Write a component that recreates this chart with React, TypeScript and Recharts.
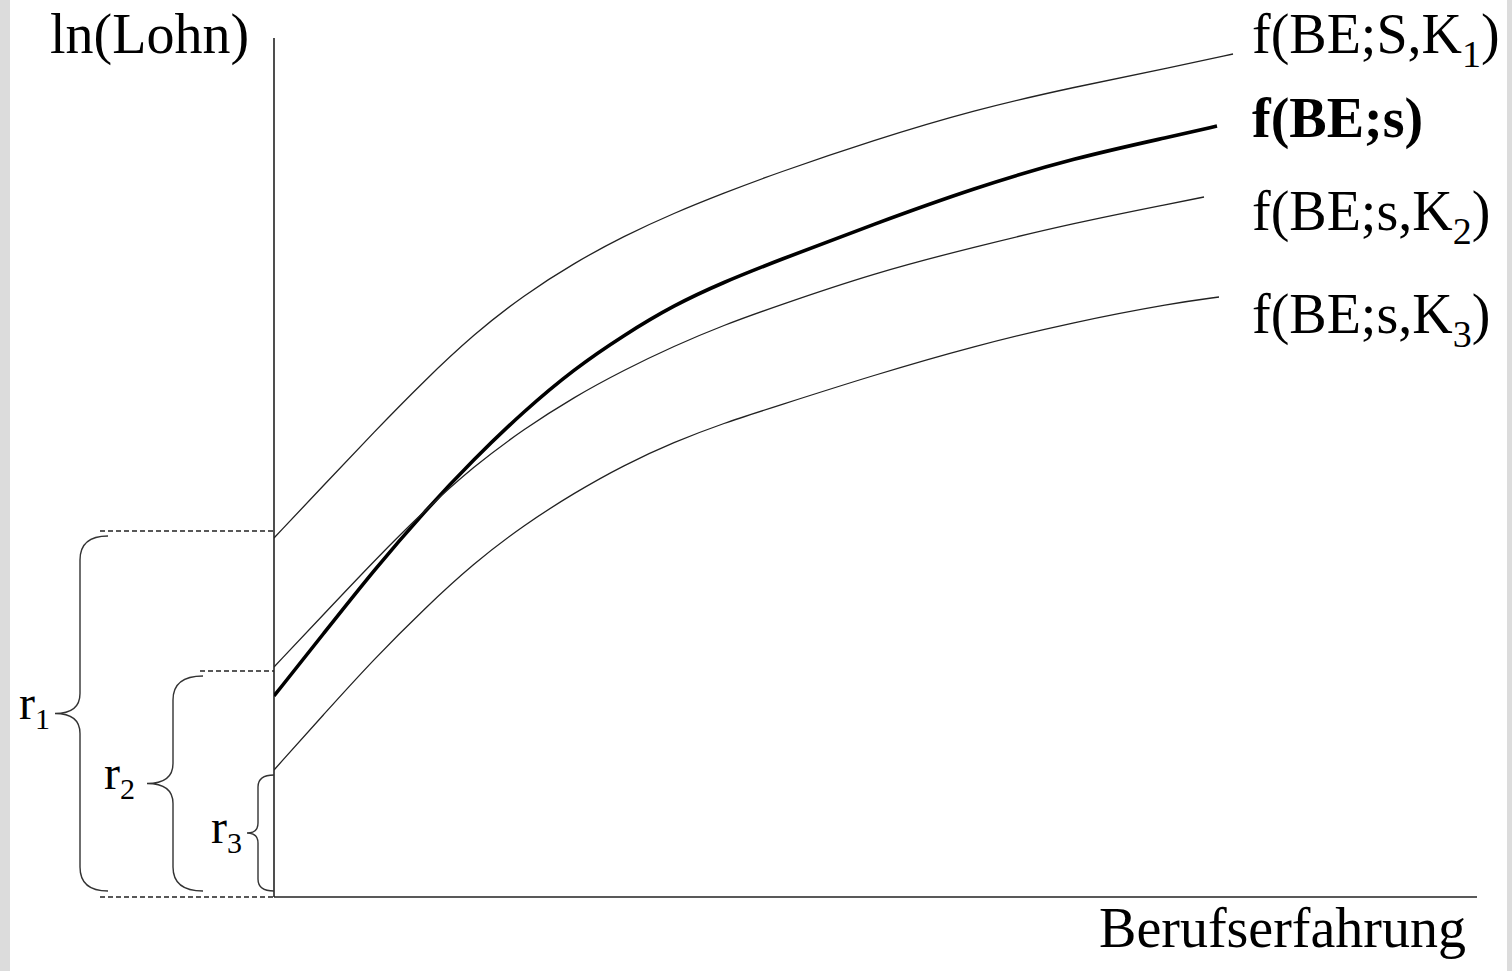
import React from 'react';
import { LineChart, Line, XAxis, YAxis, ReferenceLine, ReferenceDot, Customized } from 'recharts';

// Berufserfahrung (x) und ln(Lohn) (y)
const beYears = [0, 1, 2, 3, 4, 5, 6, 7, 8, 9, 10, 12, 14, 16, 18];
const lohnK1 = [7.18, 8.24, 9.3, 10.32, 11.26, 12.04, 12.68, 13.22, 13.68, 14.08, 14.46, 15.14, 15.74, 16.2, 16.6];
const lohnS = [4.02, 5.28, 6.54, 7.7, 8.76, 9.72, 10.56, 11.24, 11.84, 12.3, 12.7, 13.46, 14.18, 14.78, 15.22];
const lohnK2 = [4.6, 5.66, 6.72, 7.72, 8.62, 9.36, 10.0, 10.54, 11.02, 11.44, 11.8, 12.48, 13.0, 13.48, 13.88];
const lohnK3 = [2.54, 3.66, 4.76, 5.76, 6.68, 7.44, 8.08, 8.64, 9.1, 9.48, 9.8, 10.44, 11.02, 11.5, 11.88];
// letzter Punkt jeder Kurve [x, y]
const endK1 = [19.18, 16.86];
const endS = [18.86, 15.42];
const endK2 = [18.6, 14.0];
const endK3 = [18.9, 12.0];

// Niveaus r1, r2, r3 am Achsenanfang
const rLabels = ['1', '2', '3'];
const rLevels = [7.32, 4.52, 2.54];

const X_MAX = 24.06;
const Y_MAX = 17.18;

const build = (vals: number[], end: number[]) =>
  beYears.map((x, i) => ({ x, y: vals[i] })).concat([{ x: end[0], y: end[1] }]);

const FONT = '"Liberation Serif", "Times New Roman", serif';

const series = [
  { key: 'k1', data: build(lohnK1, endK1), width: 1.3, color: '#222', main: 'f(BE;S,K', sub: '1', bold: false, labelY: 16.88 },
  { key: 's', data: build(lohnS, endS), width: 3.6, color: '#000', main: 'f(BE;s)', sub: '', bold: true, labelY: 15.2 },
  { key: 'k2', data: build(lohnK2, endK2), width: 1.3, color: '#222', main: 'f(BE;s,K', sub: '2', bold: false, labelY: 13.34 },
  { key: 'k3', data: build(lohnK3, endK3), width: 1.3, color: '#222', main: 'f(BE;s,K', sub: '3', bold: false, labelY: 11.28 },
];

// Klammern: rechtes Ende (x in Daten), Abstand Stiel / Spitze in px
const braces = [
  { xEnd: -3.32, stem: 28, tip: 53, curl: 24, mid: 20, lab: -5, labDy: 5 },
  { xEnd: -1.42, stem: 30, tip: 56, curl: 24, mid: 20, lab: -12, labDy: 5 },
  { xEnd: 0, stem: 16, tip: 27, curl: 12, mid: 10, lab: -5, labDy: 10 },
];
const dashStarts = [-3.48, -1.48];

const BraceShape = (props: any, b: any, label: string) => {
  const { x1, y1, y2 } = props;
  const yT = Math.min(y1, y2) + 5;
  const yB = Math.max(y1, y2) - 6;
  const yM = (yT + yB) / 2;
  const xs = x1 - b.stem;
  const xt = x1 - b.tip;
  const d = `M${x1},${yT} Q${xs},${yT} ${xs},${yT + b.curl} L${xs},${yM - b.mid} Q${xs},${yM} ${xt},${yM} Q${xs},${yM} ${xs},${yM + b.mid} L${xs},${yB - b.curl} Q${xs},${yB} ${x1},${yB}`;
  return (
    <g>
      <path d={d} fill="none" stroke="#333" strokeWidth={1.4} />
      <text x={xt + b.lab} y={yM + b.labDy} textAnchor="end" fontFamily={FONT} fontSize={48} fill="#000">
        r<tspan fontSize={30} dy={10}>{label}</tspan>
      </text>
    </g>
  );
};

const SeriesLabel = (props: any, s: any) => (
  <text x={props.cx} y={props.cy} fontFamily={FONT} fontSize={56} fontWeight={s.bold ? 'bold' : 'normal'} fill="#000">
    {s.main}
    {s.sub ? <tspan fontSize={38} dy={14}>{s.sub}</tspan> : null}
    {s.sub ? <tspan dy={-14}>)</tspan> : null}
  </text>
);

const Titles = () => (
  <g>
    <text x={50} y={53} fontFamily={FONT} fontSize={56} fill="#000">ln(Lohn)</text>
    <text x={1466} y={947} textAnchor="end" fontFamily={FONT} fontSize={56} fill="#000">Berufserfahrung</text>
  </g>
);

export default function App() {
  return (
    <div style={{ position: 'absolute', left: 0, top: 0, width: 1512, height: 971, background: '#fff' }}>
      <div style={{ position: 'absolute', left: 0, top: 0, width: 10, height: 971, background: '#dcdcdc' }} />
      <div style={{ position: 'absolute', left: 1507, top: 0, width: 5, height: 971, background: '#dcdcdc' }} />
      <LineChart
        width={1512}
        height={971}
        margin={{ top: 38, left: 274, right: 35, bottom: 74 }}
        style={{ position: 'absolute', left: 0, top: 0 }}
      >
        <XAxis type="number" dataKey="x" domain={[0, X_MAX]} allowDataOverflow hide />
        <YAxis type="number" domain={[0, Y_MAX]} allowDataOverflow hide />
        {/* Achsen */}
        <ReferenceLine segment={[{ x: 0, y: 0 }, { x: 0, y: Y_MAX }]} stroke="#222" strokeWidth={1.6} ifOverflow="visible" />
        <ReferenceLine segment={[{ x: 0, y: 0 }, { x: X_MAX, y: 0 }]} stroke="#222" strokeWidth={1.6} ifOverflow="visible" />
        {rLevels.slice(0, 2).map((lv, i) => (
          <ReferenceLine
            key={'d' + i}
            segment={[{ x: dashStarts[i], y: lv }, { x: 0, y: lv }]}
            stroke="#222"
            strokeWidth={1.4}
            strokeDasharray="5 3"
            ifOverflow="visible"
          />
        ))}
        <ReferenceLine
          segment={[{ x: dashStarts[0], y: 0 }, { x: 0, y: 0 }]}
          stroke="#222"
          strokeWidth={1.4}
          strokeDasharray="5 3"
          ifOverflow="visible"
        />
        {braces.map((b, i) => (
          <ReferenceLine
            key={'b' + i}
            segment={[{ x: b.xEnd, y: rLevels[i] }, { x: b.xEnd, y: 0 }]}
            ifOverflow="visible"
            shape={(p: any) => BraceShape(p, b, rLabels[i])}
          />
        ))}
        {series.map((s) => (
          <Line
            key={s.key}
            data={s.data}
            dataKey="y"
            type="basis"
            stroke={s.color}
            strokeWidth={s.width}
            dot={false}
            activeDot={false}
            isAnimationActive={false}
          />
        ))}
        {series.map((s) => (
          <ReferenceDot
            key={'l' + s.key}
            x={19.56}
            y={s.labelY}
            r={0}
            ifOverflow="visible"
            shape={(p: any) => SeriesLabel(p, s)}
          />
        ))}
        <Customized component={Titles} />
      </LineChart>
    </div>
  );
}
